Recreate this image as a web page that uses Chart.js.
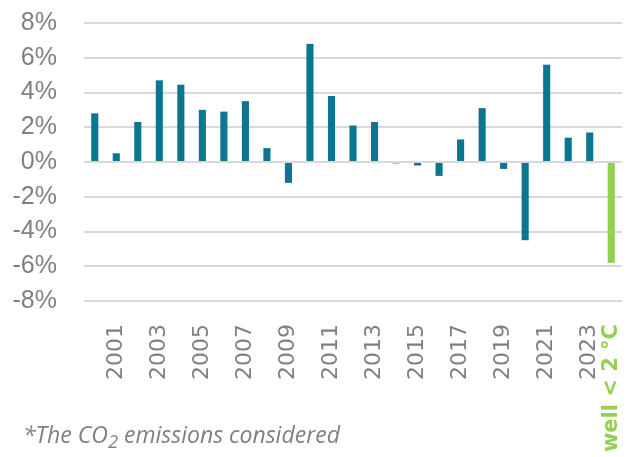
<!DOCTYPE html>
<html>
<head>
<meta charset="utf-8">
<script src="https://cdn.jsdelivr.net/npm/chart.js@4/dist/chart.umd.min.js"></script>
<style>
  html, body { margin: 0; padding: 0; background: #fff; }
  #wrap { position: relative; width: 639px; height: 457px; overflow: hidden; }
  #note {
    position: absolute; left: 23px; top: 418px;
    font-family: "Open Sans", sans-serif; font-style: italic;
    font-size: 23px; color: #808080; white-space: nowrap;
  }
  #note sub { font-size: 0.8em; vertical-align: -0.25em; }
</style>
</head>
<body>
<div id="wrap">
  <canvas id="chart" width="639" height="457"></canvas>
  <div id="note">*The CO<sub>2</sub> emissions considered</div>
</div>
<script>
// categories: years 2000-2023 plus the target bar
const years = ['2000','2001','2002','2003','2004','2005','2006','2007','2008','2009',
  '2010','2011','2012','2013','2014','2015','2016','2017','2018','2019',
  '2020','2021','2022','2023','well < 2 °C'];

// yearly change in CO2 emissions, %
const changes = [2.8, 0.5, 2.3, 4.7, 4.45, 3.0, 2.9, 3.5, 0.8, -1.2,
  6.8, 3.8, 2.1, 2.3, -0.08, -0.2, -0.8, 1.3, 3.1, -0.4,
  -4.5, 5.6, 1.4, 1.7, -5.8];

const yTicks = [-8, -6, -4, -2, 0, 2, 4, 6, 8];

const teal = '#0b768f';
const green = '#92d050';
const last = years.length - 1;

new Chart(document.getElementById('chart'), {
  type: 'bar',
  data: {
    labels: years,
    datasets: [{
      data: changes,
      backgroundColor: changes.map((_, i) => i === last ? green : teal),
      categoryPercentage: 1,
      barPercentage: 0.33
    }]
  },
  options: {
    responsive: false,
    animation: false,
    layout: { padding: { left: 12, right: 17, top: 23, bottom: 0 } },
    plugins: { legend: { display: false }, tooltip: { enabled: false } },
    scales: {
      x: {
        grid: { display: false },
        border: { display: false },
        // fixed axis height, no extra label padding
        afterFit: (axis) => {
          axis.height = 156;
          axis.paddingLeft = 0;
          axis.paddingRight = 0;
        },
        ticks: {
          autoSkip: false,
          minRotation: 90,
          maxRotation: 90,
          padding: 15,
          color: (ctx) => ctx.index === last ? green : '#808080',
          font: (ctx) => ({
            family: 'DejaVu Sans, sans-serif',
            size: ctx.index === last ? 21 : 22,
            weight: ctx.index === last ? 'bold' : 'normal'
          }),
          callback: function (value, index) {
            return (index % 2 === 1 || index === last) ? this.getLabelForValue(value) : '';
          }
        }
      },
      y: {
        min: -8,
        max: 8,
        afterBuildTicks: (axis) => { axis.ticks = yTicks.map(v => ({ value: v })); },
        afterFit: (axis) => {
          axis.width = 72;
          axis.paddingTop = 0;
          axis.paddingBottom = 0;
        },
        grid: { color: '#d9d9d9', lineWidth: 2, drawTicks: false },
        border: { display: false },
        ticks: {
          autoSkip: false,
          padding: 27,
          color: '#808080',
          font: { family: 'Liberation Sans, Arial, sans-serif', size: 25 },
          callback: (v) => v + '%'
        }
      }
    }
  }
});
</script>
</body>
</html>
